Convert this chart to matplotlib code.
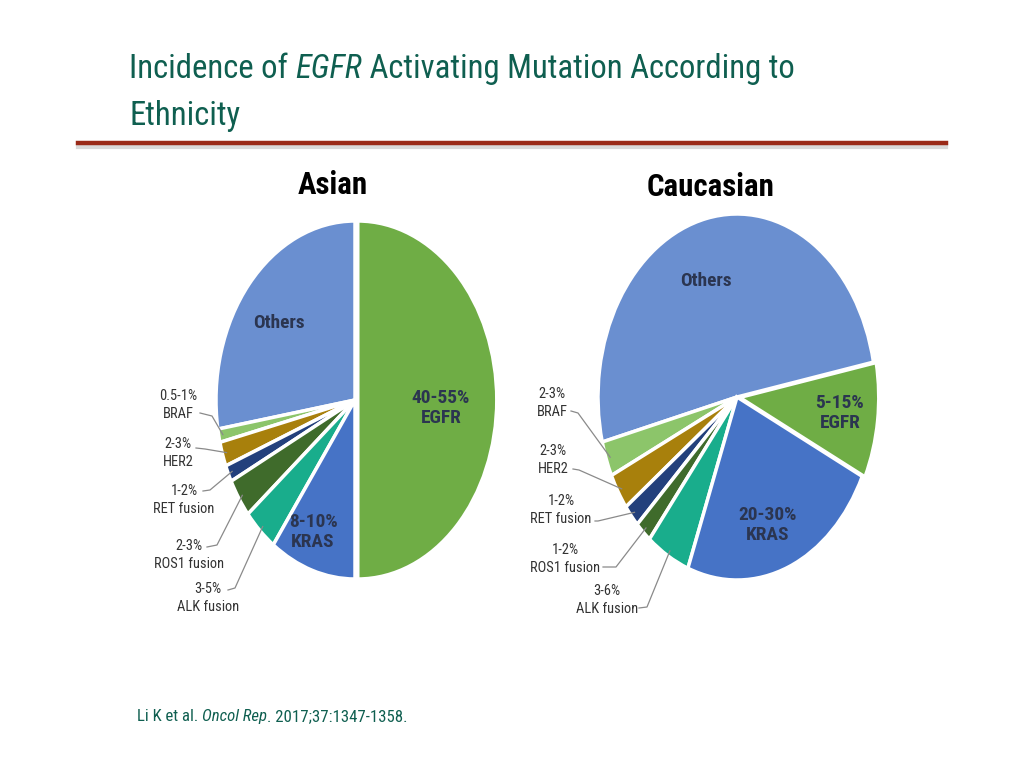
import matplotlib
matplotlib.use('Agg')
import matplotlib.pyplot as plt
import numpy as np
from matplotlib import font_manager
from matplotlib.lines import Line2D

W, H = 1024, 768

# ---------------- data ----------------
categories = ['Others', 'BRAF', 'HER2', 'RET fusion', 'ROS1 fusion', 'ALK fusion', 'KRAS', 'EGFR']
asian_values = [27.6, 1.2, 2.2, 1.5, 3.5, 4.0, 10.0, 50.0]
caucasian_values = [50.9, 3.1, 3.2, 2.0, 1.9, 5.1, 23.6, 10.2]
asian_ranges = ['', '0.5-1%', '2-3%', '1-2%', '2-3%', '3-5%', '8-10%', '40-55%']
caucasian_ranges = ['', '2-3%', '2-3%', '1-2%', '1-2%', '3-6%', '20-30%', '5-15%']
colors = ['#6a8fd0', '#8cc56a', '#a8800c', '#23407c', '#3f6b2b', '#19ad8c', '#4673c6', '#6fad45']

names = {f.name for f in font_manager.fontManager.ttflist}
preferred = ['Liberation Sans Narrow', 'Arial Narrow', 'Roboto Condensed', 'Archivo Narrow',
             'PT Sans Narrow', 'Liberation Sans']
main = next(n for n in preferred + ['DejaVu Sans'] if n in names or n == 'DejaVu Sans')
FAM = [main, 'DejaVu Sans']
plt.rcParams['font.family'] = FAM

fig = plt.figure(figsize=(W / 100, H / 100), dpi=100)
fig.patch.set_facecolor('white')
renderer = fig.canvas.get_renderer()


def P(x, y):
    return (x / W, 1 - y / H)


TITLE_PARTS = [('Incidence of ', 'normal'), ('EGFR', 'italic'),
               (' Activating Mutation According to', 'normal')]

# calibrate font scale so the header line spans its width in the reference
tot = 0
for txt, st in TITLE_PARTS:
    t = fig.text(0, 0, txt, style=st, fontsize=27)
    tot += t.get_window_extent(renderer=renderer).width
    t.remove()
k = 664.0 / tot


def seq_text(x, y, parts, **kw):
    for txt, style in parts:
        t = fig.text(*P(x, y), txt, style=style, va='baseline', ha='left', **kw)
        x += t.get_window_extent(renderer=renderer).width


TEAL = '#0f5f50'
seq_text(129, 78, TITLE_PARTS, fontsize=27 * k, color=TEAL)
fig.text(*P(129, 125), 'Ethnicity', fontsize=27 * k, color=TEAL, va='baseline', ha='left')

# header rule with shadow
fig.add_artist(Line2D([78 / W, 946 / W], [1 - 147 / H] * 2, color='#d9d9d9', lw=3))
fig.add_artist(Line2D([78 / W, 946 / W], [1 - 143 / H] * 2, color='#9a2a18', lw=3.2))

# citation
seq_text(137, 721, [('Li K et al. ', 'normal'), ('Oncol Rep', 'italic'),
                    ('. 2017;37:1347-1358.', 'normal')],
         fontsize=13.8 * k, color=TEAL)

LABEL_C = '#2b3550'


def draw_pie(box, values, ranges, startangle, explode, title, title_xy,
             inner, outer):
    x0, y0, x1, y1 = box
    ax = fig.add_axes([x0 / W, 1 - y1 / H, (x1 - x0) / W, (y1 - y0) / H])
    wedges, _ = ax.pie(values, colors=colors, startangle=startangle, counterclock=True,
                       explode=explode,
                       wedgeprops=dict(edgecolor='white', linewidth=2.5))
    for w in wedges:
        w.set_clip_on(False)
    ax.set_aspect('auto')
    ax.set_xlim(-1, 1)
    ax.set_ylim(-1, 1)
    ax.axis('off')
    fig.text(*P(*title_xy), title, fontsize=25.5 * k, fontweight='bold', color='black',
             ha='center', va='center')
    for idx, (xy, txt) in inner.items():
        fig.text(*P(*xy), txt, fontsize=16 * k, fontweight='bold', color=LABEL_C,
                 ha='center', va='center', linespacing=1.2)
    for idx, (txy, start, bend) in outer.items():
        fig.text(*P(*txy), ranges[idx] + '\n' + categories[idx], fontsize=12 * k,
                 color='#333333', ha='center', va='center', linespacing=1.3)
        w = wedges[idx]
        mid = np.deg2rad((w.theta1 + w.theta2) / 2)
        px, py = ax.transData.transform((0.97 * np.cos(mid), 0.97 * np.sin(mid)))
        xs = [start[0] / W, bend[0] / W, px / W]
        ys = [1 - start[1] / H, 1 - bend[1] / H, py / H]
        fig.add_artist(Line2D(xs, ys, color='#8a8a8a', lw=0.9))


draw_pie(box=(216, 221, 494, 579), values=asian_values, ranges=asian_ranges,
         startangle=90, explode=[0, 0, 0, 0, 0, 0, 0, 0.02],
         title='Asian', title_xy=(333, 185),
         inner={0: ((279, 323), 'Others'),
                6: ((313, 532), '8-10%\nKRAS'),
                7: ((441, 408), '40-55%\nEGFR')},
         outer={1: ((178, 405), (200, 413), (212, 416)),
                2: ((178, 453), (196, 448), (205, 449)),
                3: ((184, 500), (203, 491), (210, 490)),
                4: ((189, 555), (207, 547), (217, 545)),
                5: ((208, 598), (228, 590), (235, 588))})

draw_pie(box=(598, 214, 876, 580), values=caucasian_values, ranges=caucasian_ranges,
         startangle=11, explode=[0, 0, 0, 0, 0, 0, 0, 0.02],
         title='Caucasian', title_xy=(711, 187),
         inner={0: ((706, 281), 'Others'),
                6: ((768, 525), '20-30%\nKRAS'),
                7: ((840, 413), '5-15%\nEGFR')},
         outer={1: ((552, 403), (571, 411), (578, 413)),
                2: ((553, 460), (573, 469), (579, 470)),
                3: ((561, 510), (595, 521), (598, 521)),
                4: ((565, 559), (603, 567), (616, 567)),
                5: ((607, 600), (639, 608), (647, 607))})

fig.savefig('out.png', dpi=100, facecolor='white')
